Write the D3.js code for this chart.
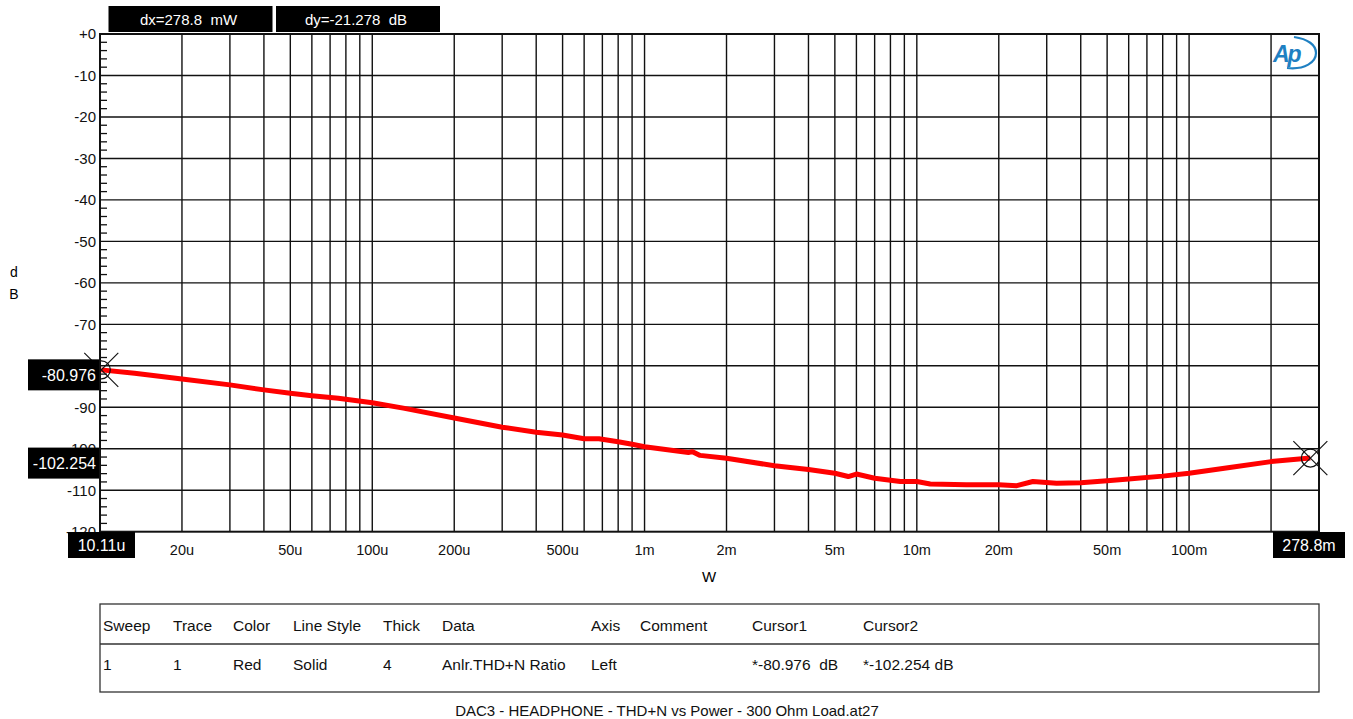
<!DOCTYPE html>
<html>
<head>
<meta charset="utf-8">
<script src="https://cdn.jsdelivr.net/npm/d3@7"></script>
<style>
  html, body { margin: 0; padding: 0; background: #fff; }
  svg { display: block; font-family: "Liberation Sans", Arial, sans-serif; }
</style>
</head>
<body>
<svg id="chart" width="1353" height="719"></svg>
<script>
// ---------------- data ----------------
const powerW = [10.11e-6, 13.4e-6, 20e-6, 30e-6, 40e-6, 50e-6, 60e-6, 75e-6, 100e-6, 130e-6,
  200e-6, 300e-6, 400e-6, 500e-6, 600e-6, 680e-6, 800e-6, 900e-6, 1e-3, 1.45e-3,
  1.5e-3, 1.6e-3, 2e-3, 3e-3, 4e-3, 5e-3, 5.6e-3, 6e-3, 7e-3, 8.7e-3,
  10e-3, 11.2e-3, 15.2e-3, 20e-3, 23.3e-3, 26.7e-3, 32.6e-3, 40e-3, 50e-3, 60e-3,
  80e-3, 100e-3, 141e-3, 200e-3, 278.8e-3];
const thdnDb = [-80.98, -81.8, -83.2, -84.6, -85.8, -86.6, -87.2, -87.8, -88.9, -90.2,
  -92.6, -94.8, -96.0, -96.7, -97.6, -97.6, -98.3, -98.9, -99.5, -100.9,
  -100.7, -101.6, -102.3, -104.1, -105.0, -105.9, -106.7, -106.1, -107.1, -107.9,
  -107.9, -108.5, -108.7, -108.7, -108.9, -107.9, -108.3, -108.2, -107.7, -107.3,
  -106.6, -105.9, -104.5, -103.1, -102.25];

const xDomain = [10e-6, 0.3];
const yDomain = [-120, 0];
const xTickValues = [20e-6, 50e-6, 100e-6, 200e-6, 500e-6, 1e-3, 2e-3, 5e-3, 10e-3, 20e-3, 50e-3, 100e-3];
const xTickLabels = ["20u", "50u", "100u", "200u", "500u", "1m", "2m", "5m", "10m", "20m", "50m", "100m"];
const yTickValues = [0, -10, -20, -30, -40, -50, -60, -70, -90, -100, -110, -120];
const yTickLabels = ["+0", "-10", "-20", "-30", "-40", "-50", "-60", "-70", "-90", "-100", "-110", "-120"];
const yGridValues = [-10, -20, -30, -40, -50, -60, -70, -80, -90, -100, -110];

const cursorX = [10.11e-6, 278.8e-3];
const cursorY = [-80.976, -102.254];
const cursorXLabels = ["10.11u", "278.8m"];
const cursorYLabels = ["-80.976", "-102.254"];
const deltaLabels = ["dx=278.8  mW", "dy=-21.278  dB"];

const tableHeader = ["Sweep", "Trace", "Color", "Line Style", "Thick", "Data", "Axis", "Comment", "Cursor1", "Cursor2"];
const tableRow = ["1", "1", "Red", "Solid", "4", "Anlr.THD+N Ratio", "Left", "", "*-80.976  dB", "*-102.254 dB"];
const footerText = "DAC3 - HEADPHONE - THD+N vs Power - 300 Ohm Load.at27";

// ---------------- layout ----------------
const L = 100, R = 1319, T = 34, B = 531.7;
const svg = d3.select("#chart");
const x = d3.scaleLog().domain(xDomain).range([L, R]);
const y = d3.scaleLinear().domain(yDomain).range([B, T]);

// vertical grid lines (1..9 per decade)
const gridX = x.ticks().filter(v => x(v) > L + 1 && x(v) < R - 1);
svg.append("g").selectAll("line").data(gridX).join("line")
  .attr("x1", d => x(d)).attr("x2", d => x(d)).attr("y1", T).attr("y2", B)
  .attr("stroke", "#111").attr("stroke-width", 1.4);

// horizontal grid lines
svg.append("g").selectAll("line").data(yGridValues).join("line")
  .attr("x1", L).attr("x2", R).attr("y1", d => y(d)).attr("y2", d => y(d))
  .attr("stroke", "#111").attr("stroke-width", 1.4);

// minor ticks on the left axis (every 2 dB)
const minorY = d3.range(-118, 0, 2).filter(v => v % 10 !== 0);
svg.append("g").selectAll("line").data(minorY).join("line")
  .attr("x1", L).attr("x2", L + 7).attr("y1", d => y(d)).attr("y2", d => y(d))
  .attr("stroke", "#111").attr("stroke-width", 1.3);

// frame
svg.append("rect").attr("x", L).attr("y", T).attr("width", R - L).attr("height", B - T)
  .attr("fill", "none").attr("stroke", "#111").attr("stroke-width", 2);

// y tick labels
svg.append("g").selectAll("text").data(yTickValues).join("text")
  .attr("x", 96).attr("y", d => y(d)).attr("dy", "0.36em")
  .attr("text-anchor", "end").attr("font-size", 15).attr("fill", "#111")
  .text((d, i) => yTickLabels[i]);

// y axis title
svg.append("text").attr("x", 14).attr("y", 277).attr("text-anchor", "middle").attr("font-size", 14).text("d");
svg.append("text").attr("x", 14).attr("y", 299).attr("text-anchor", "middle").attr("font-size", 14).text("B");

// x tick labels
svg.append("g").selectAll("text").data(xTickValues).join("text")
  .attr("x", d => x(d)).attr("y", 550).attr("dy", "0.36em")
  .attr("text-anchor", "middle").attr("font-size", 14.5).attr("fill", "#111")
  .text((d, i) => xTickLabels[i]);

// x axis title
svg.append("text").attr("x", 709).attr("y", 577).attr("dy", "0.36em")
  .attr("text-anchor", "middle").attr("font-size", 15).text("W");

// data curve
const line = d3.line().x((d, i) => x(powerW[i])).y(d => y(d));
svg.append("path").datum(thdnDb).attr("d", line)
  .attr("fill", "none").attr("stroke", "#ff0000").attr("stroke-width", 5)
  .attr("stroke-linejoin", "round");

// cursors
cursorX.forEach((cx, i) => {
  const px = x(cx), py = y(cursorY[i]);
  const g = svg.append("g").attr("stroke", "#111").attr("stroke-width", 1.2).attr("fill", "none");
  g.append("circle").attr("cx", px).attr("cy", py).attr("r", 9);
  g.append("line").attr("x1", px - 17).attr("y1", py - 17).attr("x2", px + 17).attr("y2", py + 17);
  g.append("line").attr("x1", px - 17).attr("y1", py + 17).attr("x2", px + 17).attr("y2", py - 17);
});

// cursor y value boxes (left)
cursorY.forEach((cy, i) => {
  const cyc = y(cy) + 5;
  svg.append("rect").attr("x", 28).attr("y", cyc - 15.5).attr("width", 71).attr("height", 31).attr("fill", "#000");
  svg.append("text").attr("x", 96).attr("y", cyc).attr("dy", "0.36em").attr("text-anchor", "end")
    .attr("font-size", 16).attr("fill", "#fff").text(cursorYLabels[i]);
});

// cursor x value boxes (bottom)
const xBoxes = [[68, 67], [1273, 72]];
cursorX.forEach((cx, i) => {
  svg.append("rect").attr("x", xBoxes[i][0]).attr("y", 532).attr("width", xBoxes[i][1]).attr("height", 26).attr("fill", "#000");
  svg.append("text").attr("x", xBoxes[i][0] + xBoxes[i][1] / 2).attr("y", 545).attr("dy", "0.36em")
    .attr("text-anchor", "middle").attr("font-size", 16).attr("fill", "#fff").text(cursorXLabels[i]);
});

// delta boxes (top)
const dBoxes = [108.5, 276];
deltaLabels.forEach((t, i) => {
  svg.append("rect").attr("x", dBoxes[i]).attr("y", 6).attr("width", 164).attr("height", 26).attr("fill", "#000");
  svg.append("text").attr("x", dBoxes[i] + 80).attr("y", 19.5).attr("dy", "0.36em").attr("text-anchor", "middle")
    .attr("font-size", 15).attr("fill", "#fff").style("white-space", "pre").text(t);
});

// AP logo
const logo = svg.append("g").attr("fill", "none");
logo.append("path").attr("d", "M1287,68 C1305,70 1316,62 1316,53 C1316,45 1308,39 1294,37")
  .attr("stroke", "#1f80c2").attr("stroke-width", 2.2);
logo.append("text").attr("x", 1273).attr("y", 62).attr("font-size", 23).attr("font-style", "italic")
  .attr("font-weight", "bold").attr("fill", "#1f80c2").attr("letter-spacing", -2).text("Ap");

// table
const tL = 100, tR = 1319, tT = 604, tM = 644, tB = 692;
svg.append("rect").attr("x", tL).attr("y", tT).attr("width", tR - tL).attr("height", tB - tT)
  .attr("fill", "none").attr("stroke", "#333").attr("stroke-width", 1.3);
svg.append("line").attr("x1", tL).attr("x2", tR).attr("y1", tM).attr("y2", tM).attr("stroke", "#333").attr("stroke-width", 1.3);
const colX = [103, 173, 233, 293, 383, 442, 591, 640, 752, 863];
svg.append("g").selectAll("text").data(tableHeader).join("text")
  .attr("x", (d, i) => colX[i]).attr("y", 625).attr("dy", "0.36em").attr("font-size", 15.5).attr("fill", "#111").text(d => d);
svg.append("g").selectAll("text").data(tableRow).join("text")
  .attr("x", (d, i) => colX[i]).attr("y", 664).attr("dy", "0.36em").attr("font-size", 15.5).attr("fill", "#111")
  .style("white-space", "pre").text(d => d);

// footer
svg.append("text").attr("x", 667).attr("y", 711).attr("dy", "0.36em").attr("text-anchor", "middle")
  .attr("font-size", 15).attr("fill", "#111").text(footerText);
</script>
</body>
</html>
